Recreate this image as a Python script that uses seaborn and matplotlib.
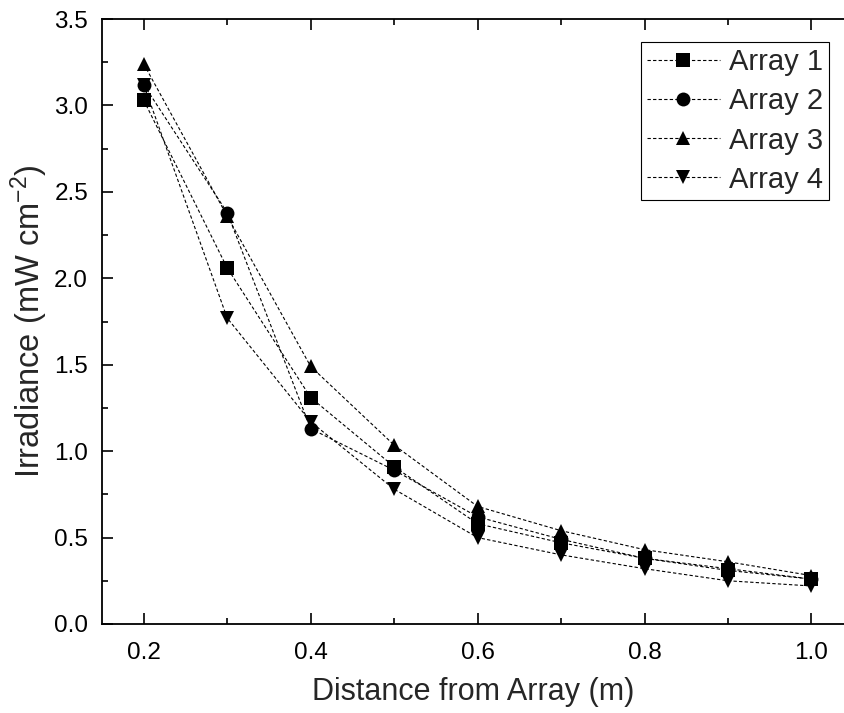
import matplotlib
matplotlib.use("Agg")
import matplotlib.pyplot as plt
from matplotlib.ticker import MultipleLocator, FormatStrFormatter
import seaborn as sns
import pandas as pd

distance = [0.2, 0.3, 0.4, 0.5, 0.6, 0.7, 0.8, 0.9, 1.0]
array1 = [3.03, 2.06, 1.31, 0.91, 0.58, 0.47, 0.38, 0.31, 0.26]
array2 = [3.12, 2.38, 1.13, 0.89, 0.62, 0.49, 0.38, 0.32, 0.26]
array3 = [3.24, 2.36, 1.49, 1.035, 0.68, 0.54, 0.43, 0.36, 0.28]
array4 = [3.12, 1.77, 1.17, 0.78, 0.50, 0.40, 0.32, 0.25, 0.22]
labels = ["Array 1", "Array 2", "Array 3", "Array 4"]
markers = ["s", "o", "^", "v"]

sns.set_style("ticks")
plt.rcParams["font.family"] = ["Liberation Sans", "DejaVu Sans"]
plt.rcParams["mathtext.default"] = "regular"

fig = plt.figure(figsize=(8.45, 7.13), dpi=100)
ax = fig.add_axes([102/845, 89/713, 742/845, 605/713])

for vals, lab, mk in zip([array1, array2, array3, array4], labels, markers):
    df = pd.DataFrame({"x": distance, "y": vals})
    sns.lineplot(data=df, x="x", y="y", ax=ax, color="black", marker=mk,
                 markersize=10, markeredgewidth=0, linestyle=(0, (3, 2)),
                 linewidth=0.8, label=lab, sort=False)

ax.set_xlim(0.15, 1.039)
ax.set_ylim(0, 3.5)
ax.xaxis.set_major_locator(MultipleLocator(0.2))
ax.xaxis.set_minor_locator(MultipleLocator(0.1))
ax.yaxis.set_major_locator(MultipleLocator(0.5))
ax.yaxis.set_minor_locator(MultipleLocator(0.25))
ax.xaxis.set_major_formatter(FormatStrFormatter("%.1f"))
ax.yaxis.set_major_formatter(FormatStrFormatter("%.1f"))

ax.tick_params(which="both", direction="in", top=True, right=False, width=1.2,
               labelsize=17.5, colors="black")
ax.tick_params(which="major", length=8)
ax.tick_params(axis="x", which="major", pad=13)
ax.tick_params(axis="y", which="major", pad=10)
ax.tick_params(which="minor", length=4.5)
for s in ["left", "bottom", "top"]:
    ax.spines[s].set_linewidth(1.3)
    ax.spines[s].set_color("black")
ax.spines["right"].set_visible(False)

ax.set_xlabel("Distance from Array (m)", fontsize=22, labelpad=9)
ax.set_ylabel("Irradiance (mW cm$^{-2}$)", fontsize=23.5, labelpad=3)

leg = ax.legend(loc="upper right", bbox_to_anchor=(0.98, 0.962), borderaxespad=0,
                fontsize=21, frameon=True, fancybox=False, framealpha=1,
                edgecolor="black", handlelength=2.5, handletextpad=0.3,
                labelspacing=0.38, borderpad=0.22, markerscale=1.0)
leg.get_frame().set_linewidth(0.8)

fig.savefig("out.png", dpi=100)
